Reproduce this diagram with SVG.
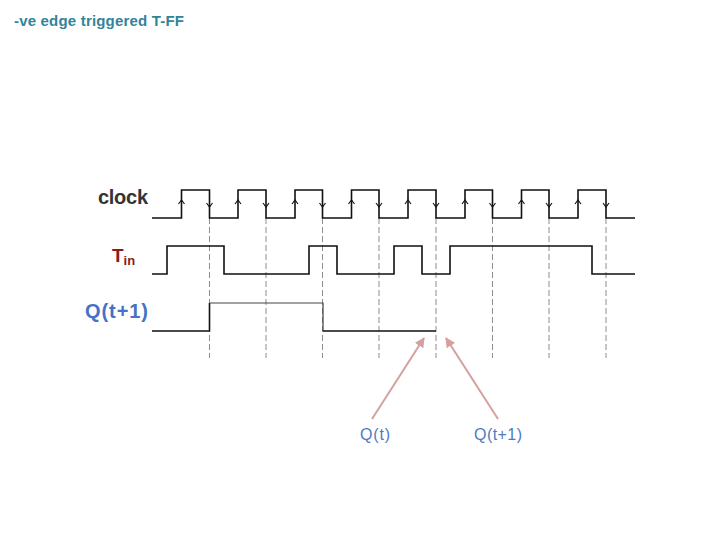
<svg xmlns="http://www.w3.org/2000/svg" width="720" height="540" viewBox="0 0 720 540">
<style>
.wave{fill:none;stroke:#111;stroke-width:1.6}
.waveh{fill:none;stroke:#444;stroke-width:1.2}
.tick{fill:none;stroke:#111;stroke-width:1.1}
.dash{stroke:#8c8c8c;stroke-width:1;stroke-dasharray:6 3}
.lbl{font-family:"Liberation Sans",Arial,sans-serif;font-weight:bold}
.ann{font-family:"Liberation Sans",Arial,sans-serif;font-size:16px;fill:#4F7BBE}
.pk{stroke:#D4A0A0;stroke-width:2;fill:none}
</style>
<defs>
<marker id="ah" viewBox="0 0 10 10" refX="9" refY="5" markerWidth="5" markerHeight="5" orient="auto">
<path d="M0,0 L10,5 L0,10 z" fill="#D4A0A0"/>
</marker>
</defs>
<text id="title" class="lbl" x="14" y="26" font-size="15" fill="#31849B" textLength="170">-ve edge triggered T-FF</text>
<g id="labels">
<text class="lbl" x="148" y="204" font-size="20" fill="#333" text-anchor="end" textLength="50">clock</text>
<text class="lbl" x="112" y="262" font-size="19" fill="#8B1A1A">T<tspan font-size="13" dy="3">in</tspan></text>
<text class="lbl" x="85" y="318" font-size="20" fill="#4472C4" textLength="63">Q(t+1)</text>
</g>
<g id="dashes">
<line class="dash" x1="209.5" y1="218" x2="209.5" y2="358"/>
<line class="dash" x1="266" y1="218" x2="266" y2="358"/>
<line class="dash" x1="322.5" y1="218" x2="322.5" y2="358"/>
<line class="dash" x1="379" y1="218" x2="379" y2="358"/>
<line class="dash" x1="436" y1="218" x2="436" y2="358"/>
<line class="dash" x1="492.5" y1="218" x2="492.5" y2="358"/>
<line class="dash" x1="549" y1="218" x2="549" y2="358"/>
<line class="dash" x1="606" y1="218" x2="606" y2="358"/>
</g>
<g id="clock">
<path class="wave" d="M152,218 H181.5 V190 H209.5 V218 H238 V190 H266 V218 H295 V190 H322.5 V218 H351.5 V190 H379 V218 H408 V190 H436 V218 H465 V190 H492.5 V218 H521.5 V190 H549 V218 H578 V190 H606 V218 H635"/>
<path class="tick" d="M178.5,204 L181.5,200 L184.5,204 M235,204 L238,200 L241,204 M292,204 L295,200 L298,204 M348.5,204 L351.5,200 L354.5,204 M405,204 L408,200 L411,204 M462,204 L465,200 L468,204 M518.5,204 L521.5,200 L524.5,204 M575,204 L578,200 L581,204"/>
<path class="tick" d="M206.5,203 L209.5,207 L212.5,203 M263,203 L266,207 L269,203 M319.5,203 L322.5,207 L325.5,203 M376,203 L379,207 L382,203 M433,203 L436,207 L439,203 M489.5,203 L492.5,207 L495.5,203 M546,203 L549,207 L552,203 M603,203 L606,207 L609,203"/>
</g>
<g id="tin">
<path class="wave" d="M152,274 H167 V246 H224 V274 H309 V246 H337 V274 H394 V246 H422 V274 H450 V246 H592 V274 H635"/>
</g>
<g id="q">
<path class="wave" d="M152,331 H209.5 V303"/>
<path class="waveh" d="M209.5,303 H323 V331"/>
<path class="wave" d="M323,331 H436"/>
</g>
<g id="connectors">
<line class="pk" x1="372" y1="419" x2="424" y2="338" marker-end="url(#ah)"/>
<line class="pk" x1="498" y1="419" x2="446" y2="338" marker-end="url(#ah)"/>
</g>
<g id="annotations">
<text class="ann" x="360" y="440" textLength="30">Q(t)</text>
<text class="ann" x="474" y="440" textLength="48">Q(t+1)</text>
</g>
</svg>
